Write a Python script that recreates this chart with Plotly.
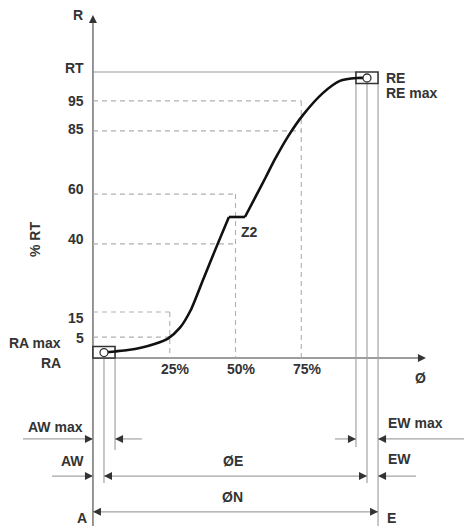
import plotly.graph_objects as go

# ---------------- data (schematic units: % of diameter on x, schematic % RT on y) -------------
level_labels = ["RT", "95", "85", "60", "40", "15", "5"]
level_values = [100, 89.9, 79.4, 57.3, 39.9, 16.1, 7.3]
guide_levels = ["95", "85", "60", "40", "15", "5"]
guide_reach_pct = [75, 75, 50, 50, 25, 25]

pct_labels = ["25%", "50%", "75%"]
pct_values = [25, 50, 75]
pct_top_level = [16.1, 57.3, 89.9]

curve_x = [0, 4.2, 9.1, 14.0, 19.5, 24.3, 28.9, 32.9, 37.6, 42.6, 47.5,
           53.6, 57.4, 61.5, 65.0, 70.0, 75.7, 83.3, 89.7, 96.2, 100]
curve_y = [1.9, 2.3, 2.8, 3.6, 5.0, 6.8, 10.6, 16.6, 27.2, 38.5, 49.3,
           49.3, 56.0, 63.2, 69.5, 77.5, 85.0, 92.7, 96.9, 97.9, 97.9]
z2_start, z2_end = 10, 11

ra_point = (0, 1.9)
re_point = (100, 97.9)
tol = 4.2           # AW / EW half-tolerance
box_h = 4.0

# ---------------- styling / layout ----------------
W, H = 464, 526
XR = [-39.54, 136.88]
YR = [-58.74, 125.17]
DARK = "#333333"
AXIS = "#7d7d7d"
LIGHT = "#a3a3a3"
FONT = "Liberation Sans, Arial, sans-serif"

fig = go.Figure()


def line(x0, y0, x1, y1, color=LIGHT, width=1.2, dash=None):
    fig.add_shape(type="line", x0=x0, y0=y0, x1=x1, y1=y1, xref="x", yref="y",
                  line=dict(color=color, width=width, dash=dash), layer="below")


def text(x, y, s, xanchor="center", yanchor="middle", size=14, angle=0, xshift=0, yshift=0):
    fig.add_annotation(x=x, y=y, text="<b>%s</b>" % s, showarrow=False, xanchor=xanchor,
                       yanchor=yanchor, textangle=angle, xshift=xshift, yshift=yshift,
                       font=dict(family=FONT, size=size, color=DARK))


axis_x = ra_point[0] - tol
top_y = 119.9
right_x = 122.4

# axes
line(axis_x, YR[0], axis_x, top_y - 2, color=AXIS, width=1.6)
line(axis_x, 0, right_x - 2, 0, color=AXIS, width=1.6)

# RT line
line(axis_x, level_values[0], re_point[0] - tol, level_values[0], color="#9a9a9a", width=1.1)

# dashed guides
DASH = "5px,4px"
for lab, reach in zip(guide_levels, guide_reach_pct):
    yv = level_values[level_labels.index(lab)]
    line(axis_x, yv, reach, yv, color="#b0b0b0", width=1.1, dash=DASH)
for p, top in zip(pct_values, pct_top_level):
    line(p, top, p, 0, color="#b0b0b0", width=1.1, dash=DASH)

# tolerance verticals
row_awmax, row_aw, row_n = -28.3, -41.3, -53.8
line(ra_point[0], 0, ra_point[0], -43.7)
line(ra_point[0] + tol, 0, ra_point[0] + tol, -32.2)
line(re_point[0] - tol, level_values[0] - box_h, re_point[0] - tol, -31.1)
line(re_point[0], level_values[0] - box_h, re_point[0], -43.7)
line(re_point[0] + tol, level_values[0] - box_h, re_point[0] + tol, YR[0])

# dimension lines
line(-30.8, row_awmax, axis_x, row_awmax)
line(ra_point[0] + tol, row_awmax, 14.4, row_awmax)
line(87.8, row_awmax, re_point[0] - tol, row_awmax)
line(re_point[0] + tol, row_awmax, XR[1], row_awmax)
line(-19.8, row_aw, axis_x, row_aw)
line(ra_point[0], row_aw, re_point[0], row_aw)
line(re_point[0] + tol, row_aw, 118.6, row_aw)
line(axis_x, row_n, re_point[0] + tol, row_n)

# boxes (below traces so the RA / RE circles stay visible)
fig.add_shape(type="rect", x0=ra_point[0] - tol, x1=ra_point[0] + tol, y0=0, y1=box_h,
              line=dict(color=DARK, width=1.6), fillcolor="white", layer="below")
fig.add_shape(type="rect", x0=re_point[0] - tol, x1=re_point[0] + tol,
              y0=level_values[0] - box_h, y1=level_values[0],
              line=dict(color=DARK, width=1.6), fillcolor="white", layer="below")

# curve
cstyle = dict(color="#111111", width=2.6)
fig.add_trace(go.Scatter(x=curve_x[:z2_start + 1], y=curve_y[:z2_start + 1], mode="lines",
                         line=dict(shape="spline", smoothing=0.7, **cstyle), hoverinfo="skip"))
fig.add_trace(go.Scatter(x=curve_x[z2_start:z2_end + 1], y=curve_y[z2_start:z2_end + 1],
                         mode="lines", line=dict(shape="linear", **cstyle), hoverinfo="skip"))
fig.add_trace(go.Scatter(x=curve_x[z2_end:], y=curve_y[z2_end:], mode="lines",
                         line=dict(shape="spline", smoothing=0.7, **cstyle), hoverinfo="skip"))

# RA / RE circles
fig.add_trace(go.Scatter(x=[ra_point[0], re_point[0]], y=[ra_point[1], re_point[1]], mode="markers",
                         marker=dict(symbol="circle", size=8, color="white",
                                     line=dict(color=DARK, width=1.3)), hoverinfo="skip"))

# arrowheads
arr = [
    (axis_x, top_y, "arrow-up"),
    (right_x, 0, "arrow-right"),
    (axis_x, row_awmax, "arrow-right"),
    (ra_point[0] + tol, row_awmax, "arrow-left"),
    (re_point[0] - tol, row_awmax, "arrow-right"),
    (re_point[0] + tol, row_awmax, "arrow-left"),
    (axis_x, row_aw, "arrow-right"),
    (ra_point[0], row_aw, "arrow-left"),
    (re_point[0], row_aw, "arrow-right"),
    (re_point[0] + tol, row_aw, "arrow-left"),
    (axis_x, row_n, "arrow-left"),
    (re_point[0] + tol, row_n, "arrow-right"),
]
fig.add_trace(go.Scatter(x=[a[0] for a in arr], y=[a[1] for a in arr], mode="markers",
                         marker=dict(symbol=[a[2] for a in arr], size=8, color=DARK,
                                     line=dict(width=0)), hoverinfo="skip"))

# level labels
level_shift = [4, 0, 2, 5, 5, -6, -1]
for lab, v, s in zip(level_labels, level_values, level_shift):
    text(axis_x, v, lab, xanchor="right", xshift=-7, yshift=s)

# pct labels
for lab, p in zip(pct_labels, pct_values):
    text(p, 0, lab, xshift=6, yshift=-11)

text(-9.9, top_y, "R")
text(-26.2, 41.3, "% RT", angle=-90)
text(-15.6, 5.2, "RA max", xanchor="right")
text(-15.6, -1.75, "RA", xanchor="right")
text(55.5, 44.1, "Z2")
text(120.2, -7.0, "Ø")
text(re_point[0] + tol, re_point[1], "RE", xanchor="left", xshift=6)
text(re_point[0] + tol, 92.7, "RE max", xanchor="left", xshift=6)
text(-18.6, -24.1, "AW max")
text(-11.8, -36.0, "AW")
text(49.0, -36.0, "ØE")
text(49.0, -48.6, "ØN")
text(-8.4, -56.0, "A")
text(118.3, -22.7, "EW max")
text(112.2, -35.3, "EW")
text(109.5, -56.0, "E")

fig.update_layout(
    width=W, height=H, margin=dict(l=0, r=0, t=0, b=0),
    paper_bgcolor="white", plot_bgcolor="white", showlegend=False,
    xaxis=dict(range=XR, visible=False, fixedrange=True),
    yaxis=dict(range=YR, visible=False, fixedrange=True),
)

fig.write_html("out.html", config={"displayModeBar": False},
               post_script="document.body.style.margin='0';document.body.style.overflow='hidden';")
